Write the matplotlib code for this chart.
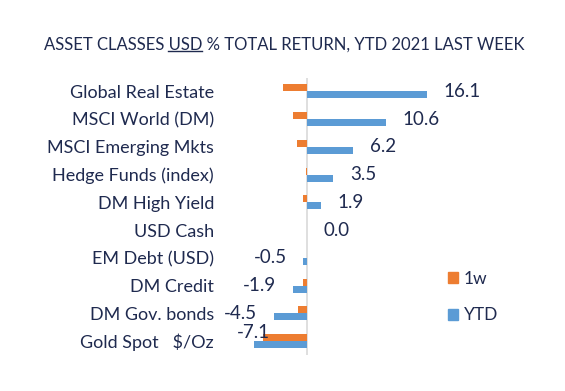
import numpy as np
import matplotlib
matplotlib.use("Agg")
import matplotlib.pyplot as plt
from matplotlib.patches import Patch
from matplotlib.lines import Line2D

plt.rcParams['font.family'] = ['Lato', 'DejaVu Sans']

# Data (top to bottom as in the chart)
categories = ['Global Real Estate', 'MSCI World (DM)', 'MSCI Emerging Mkts',
              'Hedge Funds (index)', 'DM High Yield', 'USD Cash',
              'EM Debt (USD)', 'DM Credit', 'DM Gov. bonds', 'Gold Spot   $/Oz']
week_1 = [-3.2, -1.9, -1.3, -0.2, -0.5, 0.0, 0.0, -0.5, -1.2, -5.9]
ytd = [16.1, 10.6, 6.2, 3.5, 1.9, 0.0, -0.5, -1.9, -4.5, -7.1]

orange = '#ED7D31'
blue = '#5B9BD5'
navy = '#1F2A4F'

W, H = 565, 391
fig = plt.figure(figsize=(W / 100, H / 100), dpi=100)
# axes placed in pixel terms: x from 214 to 471, y from 77 to 355
ax = fig.add_axes([214 / W, 1 - 355 / H, (471 - 214) / W, (355 - 77.5) / H])

n = len(categories)
y = np.arange(n)[::-1]
h = 0.25
ax.barh(y + h / 2, week_1, height=h, color=orange, label='1w')
ax.barh(y - h / 2, ytd, height=h, color=blue, label='YTD')

ax.set_xlim(-12.5, 22)
ax.set_ylim(-0.5, n - 0.5)
ax.axvline(0, color='#D9D9D9', lw=1.2, zorder=0)

ax.set_yticks(y)
ax.set_yticklabels(categories, fontsize=13, color=navy)
ax.tick_params(axis='y', length=0, pad=0)
ax.set_xticks([])
for s in ax.spines.values():
    s.set_visible(False)

# value labels for YTD
for yi, v in zip(y, ytd):
    if v == min(ytd):
        ax.annotate(f'{v:.1f}', (v, yi), xytext=(11, 6), textcoords='offset points',
                    ha='right', va='center', fontsize=13.5, color=navy)
    elif v < 0:
        ax.annotate(f'{v:.1f}', (v, yi), xytext=(-12, 0), textcoords='offset points',
                    ha='right', va='center', fontsize=13.5, color=navy)
    else:
        ax.annotate(f'{v:.1f}', (v, yi), xytext=(12, 0), textcoords='offset points',
                    ha='left', va='center', fontsize=13.5, color=navy)

handles = [Patch(color=orange, label='1w'), Patch(color=blue, label='YTD')]
fig.legend(handles=handles, loc='center left', bbox_to_anchor=(432 / W, 1 - 297 / H),
           frameon=False, fontsize=12.5, handlelength=0.6, handleheight=0.6,
           handletextpad=0.35, labelspacing=1.2, labelcolor=navy)

# title, with USD underlined
title = 'ASSET CLASSES USD % TOTAL RETURN, YTD 2021 LAST WEEK'
t = fig.text(284 / W, 1 - 45 / H, title, ha='center', va='center',
             fontsize=12, color=navy)
r = fig.canvas.get_renderer()
tb = t.get_window_extent(r)
pre = fig.text(0, 0, 'ASSET CLASSES ', fontsize=12)
usd = fig.text(0, 0, 'USD', fontsize=12)
x0 = tb.x0 + pre.get_window_extent(r).width
x1 = x0 + usd.get_window_extent(r).width
pre.remove()
usd.remove()
yl = tb.y0 + 2
fig.add_artist(Line2D([x0 / W, x1 / W], [yl / H, yl / H], color=navy, lw=1.0))

fig.savefig('out.png', dpi=100)
